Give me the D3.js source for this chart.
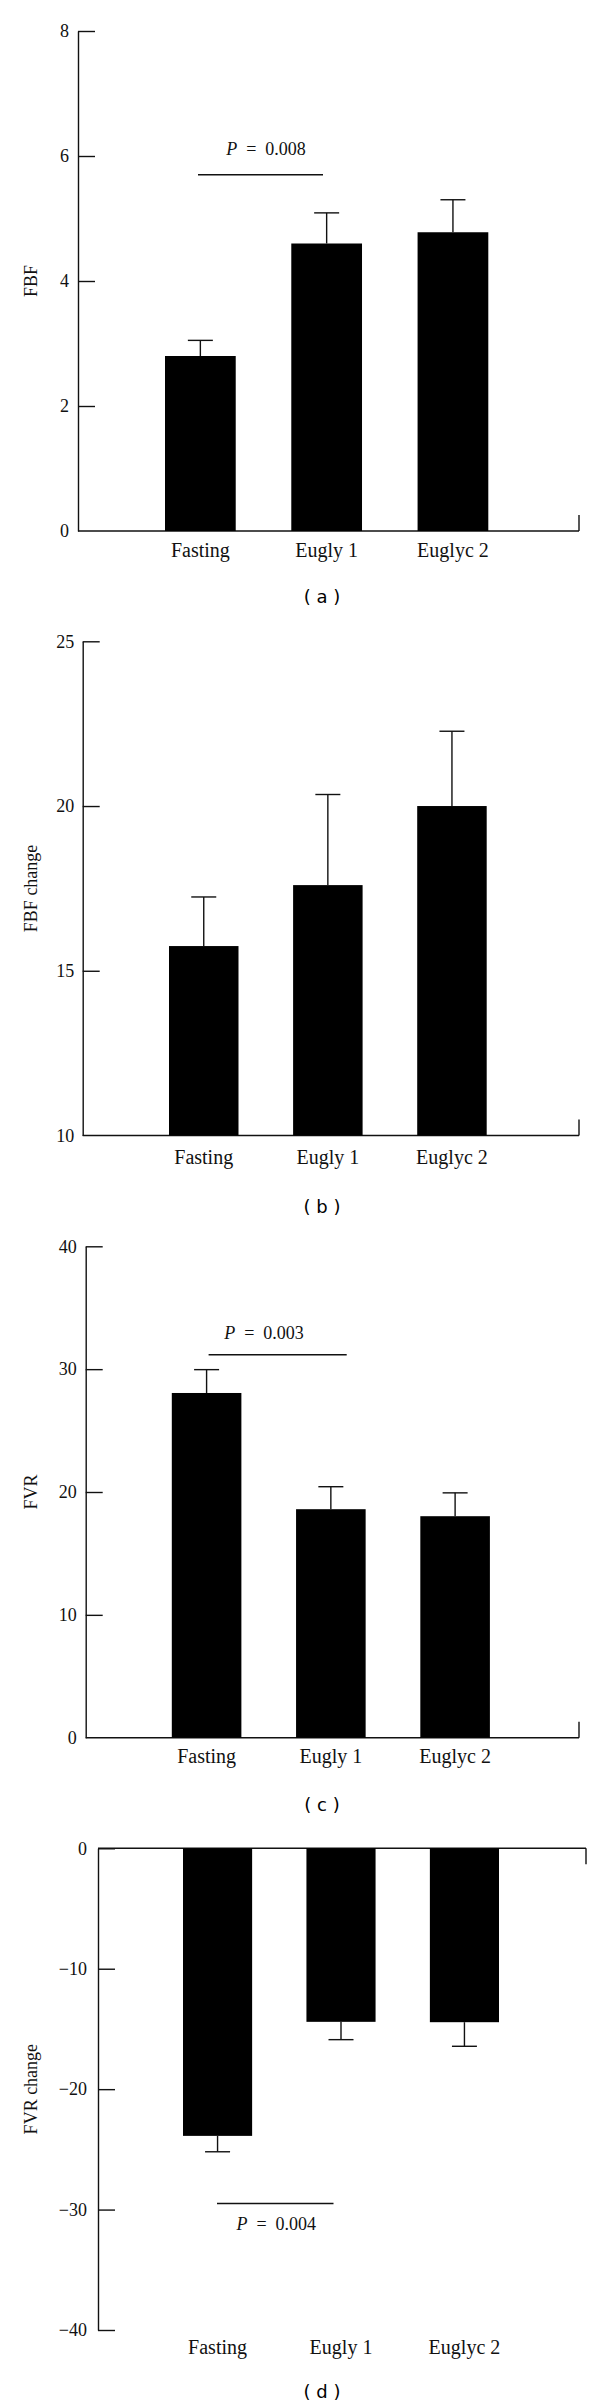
<!DOCTYPE html>
<html>
<head>
<meta charset="utf-8">
<script src="https://cdn.jsdelivr.net/npm/d3@7"></script>
<style>
  html, body { margin: 0; padding: 0; background: #fff; }
  svg { display: block; }
</style>
</head>
<body>
<svg id="chart" width="600" height="2408"></svg>
<script>
// ---------------- DATA ----------------
const categories = ["Fasting", "Eugly 1", "Euglyc 2"];

const fbfMean = [2.8, 4.6, 4.78];
const fbfErr = [0.25, 0.49, 0.52];

const fbfChangeMean = [15.75, 17.6, 20.0];
const fbfChangeErr = [1.49, 2.75, 2.27];

const fvrMean = [28.06, 18.6, 18.03];
const fvrErr = [1.9, 1.83, 1.9];

const fvrChangeMean = [-23.88, -14.41, -14.44];
const fvrChangeErr = [1.32, 1.48, 2.0];

const fbfTicks = [0, 2, 4, 6, 8];
const fbfChangeTicks = [10, 15, 20, 25];
const fvrTicks = [0, 10, 20, 30, 40];
const fvrChangeTicks = [0, -10, -20, -30, -40];

const yTitles = ["FBF", "FBF change", "FVR", "FVR change"];
const panelCaptions = ["( a )", "( b )", "( c )", "( d )"];
const pLabels = ["0.008", null, "0.003", "0.004"];
const pLineValues = [5.7, null, 31.17, -29.5];

// ---------------- LAYOUT ----------------
const panels = [
  { mean: fbfMean, err: fbfErr, ticks: fbfTicks, domain: [0, 8],
    axisX: 78, yRange: [531, 31], rightX: 579, bars: [165, 488.3],
    labelBase: 557, capY: 596, tickPad: 9,
    pLine: [198, 323], pTextDx: 5.5, pTextY: 155 },
  { mean: fbfChangeMean, err: fbfChangeErr, ticks: fbfChangeTicks, domain: [10, 25],
    axisX: 82.7, yRange: [1135.5, 641.3], rightX: 579, bars: [169, 486.7],
    labelBase: 1164, capY: 1206, tickPad: 8.5 },
  { mean: fvrMean, err: fvrErr, ticks: fvrTicks, domain: [0, 40],
    axisX: 85.7, yRange: [1737.7, 1246.3], rightX: 579, bars: [171.8, 489.9],
    labelBase: 1763, capY: 1804, tickPad: 9,
    pLine: [208.6, 346.7], pTextDx: -13.6, pTextY: 1338.5 },
  { mean: fvrChangeMean, err: fvrChangeErr, ticks: fvrChangeTicks, domain: [-40, 0],
    axisX: 98, yRange: [2330, 1848.3], rightX: 586, bars: [183, 499],
    labelBase: 2354, capY: 2391, tickPad: 11,
    pLine: [217, 333.5], pTextDx: 1, pTextY: 2230.4 }
];

const serif = "'Liberation Serif', 'Times New Roman', serif";
const svg = d3.select("#chart");
const ink = "#111";

panels.forEach((p, i) => {
  const g = svg.append("g");
  const y = d3.scaleLinear().domain(p.domain).range(p.yRange);
  const x = d3.scaleBand().domain(categories).range(p.bars).paddingInner(0.44).paddingOuter(0);
  const base = Math.min(Math.max(0, p.domain[0]), p.domain[1]);
  const neg = p.domain[1] <= 0;

  // Y axis (ticks drawn inward)
  const yAxis = d3.axisLeft(y).tickValues(p.ticks).tickSizeInner(-17).tickSizeOuter(0)
    .tickPadding(p.tickPad).tickFormat(d3.format("d"));
  const ag = g.append("g").attr("transform", `translate(${p.axisX},0)`).call(yAxis);
  ag.selectAll("path.domain").attr("stroke", ink).attr("stroke-width", 1.4);
  ag.selectAll(".tick line").attr("stroke", ink).attr("stroke-width", 1.4);
  ag.selectAll(".tick text").attr("font-family", serif).attr("font-size", 18).attr("fill", "#111");
  if (!neg) ag.selectAll(".tick").filter(d => d === p.domain[0]).select("line").remove();

  // horizontal baseline with end tick
  const by = y(base);
  g.append("line").attr("x1", p.axisX).attr("x2", p.rightX).attr("y1", by).attr("y2", by)
    .attr("stroke", ink).attr("stroke-width", 1.4);
  g.append("line").attr("x1", p.rightX).attr("x2", p.rightX)
    .attr("y1", by).attr("y2", neg ? by + 16 : by - 16)
    .attr("stroke", ink).attr("stroke-width", 1.4);

  // bars
  const data = categories.map((c, k) => ({ c, v: p.mean[k], e: p.err[k] }));
  g.selectAll("rect.bar").data(data).enter().append("rect")
    .attr("class", "bar")
    .attr("x", d => x(d.c))
    .attr("width", x.bandwidth())
    .attr("y", d => Math.min(y(base), y(d.v)))
    .attr("height", d => Math.abs(y(d.v) - y(base)))
    .attr("fill", "#000");

  // error bars
  const capW = 25;
  data.forEach(d => {
    const cx = x(d.c) + x.bandwidth() / 2;
    const tip = d.v >= 0 ? d.v + d.e : d.v - d.e;
    g.append("line").attr("x1", cx).attr("x2", cx).attr("y1", y(d.v)).attr("y2", y(tip))
      .attr("stroke", ink).attr("stroke-width", 1.4);
    g.append("line").attr("x1", cx - capW / 2).attr("x2", cx + capW / 2)
      .attr("y1", y(tip)).attr("y2", y(tip)).attr("stroke", ink).attr("stroke-width", 1.4);
  });

  // category labels
  g.selectAll("text.cat").data(categories).enter().append("text")
    .attr("class", "cat")
    .attr("x", d => x(d) + x.bandwidth() / 2)
    .attr("y", p.labelBase)
    .attr("text-anchor", "middle")
    .attr("font-family", serif).attr("font-size", 20).attr("fill", "#111")
    .text(d => d);

  // y title
  const yc = (p.yRange[0] + p.yRange[1]) / 2;
  g.append("text")
    .attr("transform", `translate(37,${yc}) rotate(-90)`)
    .attr("text-anchor", "middle")
    .attr("font-family", serif).attr("font-size", 18).attr("fill", "#111")
    .text(yTitles[i]);

  // caption
  g.append("text")
    .attr("x", 322).attr("y", p.capY)
    .attr("text-anchor", "middle").attr("dominant-baseline", "central")
    .attr("font-family", "'DejaVu Sans', sans-serif").attr("font-size", 18).attr("fill", "#000")
    .attr("xml:space", "preserve")
    .text(panelCaptions[i]);

  // P annotation
  if (pLabels[i] !== null) {
    const ly = y(pLineValues[i]);
    g.append("line").attr("x1", p.pLine[0]).attr("x2", p.pLine[1]).attr("y1", ly).attr("y2", ly)
      .attr("stroke", ink).attr("stroke-width", 1.4);
    const t = g.append("text")
      .attr("x", (p.pLine[0] + p.pLine[1]) / 2 + p.pTextDx).attr("y", p.pTextY)
      .attr("text-anchor", "middle")
      .attr("font-family", serif).attr("font-size", 18).attr("fill", "#111");
    t.append("tspan").attr("font-style", "italic").text("P");
    t.append("tspan").text("\u2002=\u2002" + pLabels[i]);
  }
});
</script>
</body>
</html>
